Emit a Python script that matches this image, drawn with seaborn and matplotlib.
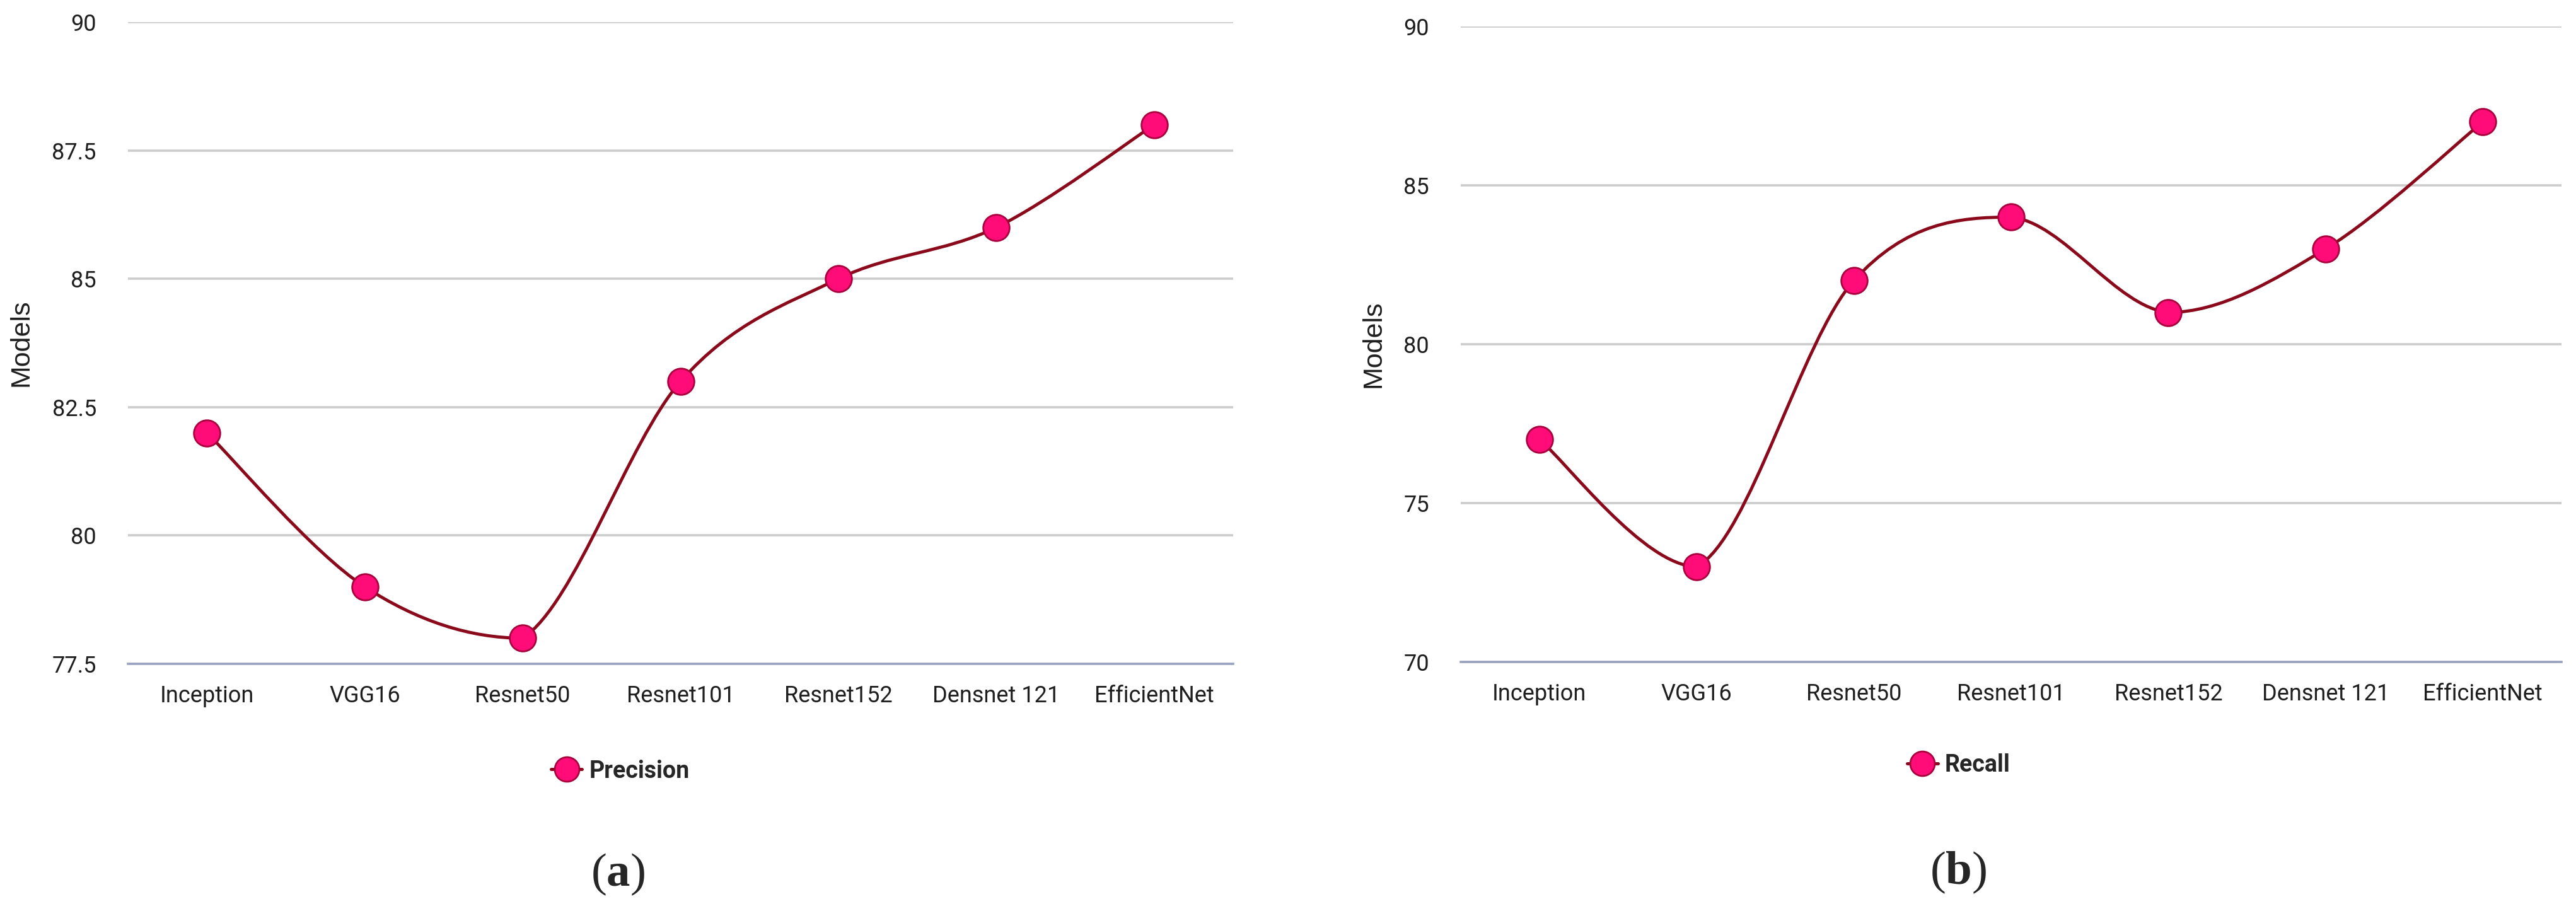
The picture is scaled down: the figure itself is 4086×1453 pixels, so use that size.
import matplotlib
matplotlib.use("Agg")
import matplotlib.pyplot as plt
from matplotlib.path import Path
from matplotlib.patches import PathPatch
from matplotlib.lines import Line2D
import seaborn as sns
import numpy as np
import pandas as pd

models = ['Inception', 'VGG16', 'Resnet50', 'Resnet101', 'Resnet152', 'Densnet 121', 'EfficientNet']
precision = [82, 79, 78, 83, 85, 86, 88]
recall = [77, 73, 82, 84, 81, 83, 87]

prec_ticks = [77.5, 80, 82.5, 85, 87.5, 90]
prec_ticklabels = ['77.5', '80', '82.5', '85', '87.5', '90']
rec_ticks = [70, 75, 80, 85, 90]
rec_ticklabels = ['70', '75', '80', '85', '90']

LINE = '#8a0a1c'
FILL = '#ff0c78'
EDGE = '#a8003c'
GRID = '#cccccc'
BASE = '#99a2bf'

sns.set_theme(style='white')
plt.rcParams['font.family'] = ['Roboto', 'DejaVu Sans']
plt.rcParams['mathtext.fontset'] = 'custom'
plt.rcParams['mathtext.rm'] = 'Liberation Serif'
plt.rcParams['mathtext.bf'] = 'Liberation Serif:bold'

W, H = 4087, 1453
fig = plt.figure(figsize=(W / 100, H / 100), dpi=100)


def smooth_path(vals):
    # cubic bezier through the points, control points kept inside each segment's
    # value range so the curve does not overshoot (like the "function" curve)
    x = np.arange(len(vals), dtype=float)
    y = np.asarray(vals, dtype=float)
    px = np.concatenate([[x[0]], x, [x[-1]]])
    py = np.concatenate([[y[0]], y, [y[-1]]])
    verts = [(x[0], y[0])]
    codes = [Path.MOVETO]
    for i in range(len(x) - 1):
        j = i + 1
        lo, hi = min(y[i], y[i + 1]), max(y[i], y[i + 1])
        c1y = np.clip(y[i] + (py[j + 1] - py[j - 1]) / 6, lo, hi)
        c2y = np.clip(y[i + 1] - (py[j + 2] - py[j]) / 6, lo, hi)
        c1 = (x[i] + (px[j + 1] - px[j - 1]) / 6, c1y)
        c2 = (x[i + 1] - (px[j + 2] - px[j]) / 6, c2y)
        verts += [c1, c2, (x[i + 1], y[i + 1])]
        codes += [Path.CURVE4] * 3
    return Path(verts, codes)


def panel(rect, vals, name, ticks, ticklabels, ylim, legend_xy, tag_xy, tag, ylabel_x):
    ax = fig.add_axes(rect)
    df = pd.DataFrame({'Model': models, name: vals})
    ax.add_patch(PathPatch(smooth_path(vals), facecolor='none', edgecolor=LINE,
                           lw=3.6, zorder=3, capstyle='round'))
    sns.scatterplot(data=df, x='Model', y=name, ax=ax, s=900, color=FILL,
                    edgecolor=EDGE, linewidth=2.0, zorder=4, legend=False)
    ax.set_xlim(-0.5, len(models) - 0.5)
    ax.set_ylim(*ylim)
    ax.set_yticks(ticks)
    ax.set_yticklabels(ticklabels)
    ax.yaxis.grid(True, color=GRID, lw=2.6)
    ax.xaxis.grid(False)
    for s in ['top', 'right', 'left']:
        ax.spines[s].set_visible(False)
    ax.spines['bottom'].set_color(BASE)
    ax.spines['bottom'].set_linewidth(2.6)
    ax.tick_params(axis='y', length=0, pad=36, labelsize=26, labelcolor='#1e1e1e')
    ax.tick_params(axis='x', length=0, pad=24, labelsize=26, labelcolor='#1e1e1e')
    ax.set_xlabel('')
    ax.set_ylabel('Models', fontsize=31, family=['Liberation Sans', 'DejaVu Sans'],
                  color='#1e1e1e')
    ax.yaxis.set_label_coords(ylabel_x, 0.5)

    handle = Line2D([], [], color=LINE, lw=3.6, marker='o', markersize=28,
                    markerfacecolor=FILL, markeredgecolor=EDGE, markeredgewidth=2.0)
    fig.legend([handle], [name], loc='center', bbox_to_anchor=legend_xy,
               frameon=False, handlelength=1.3, handletextpad=0.3,
               prop={'family': 'Roboto', 'weight': 'bold', 'size': 27})
    fig.text(tag_xy[0], tag_xy[1], r'($\mathbf{' + tag + '}$)', ha='center', va='center',
             fontsize=54, family='Liberation Serif')
    return ax


panel([203 / W, 1 - 1053 / H, (1956 - 203) / W, (1053 - 35) / H],
      precision, 'Precision', prec_ticks, prec_ticklabels, (77.5, 90),
      (984 / W, 1 - 1223 / H), (980 / W, 1 - 1387 / H), 'a', -0.085)

panel([2317 / W, 1 - 1050 / H, (4063 - 2317) / W, (1050 - 42) / H],
      recall, 'Recall', rec_ticks, rec_ticklabels, (70, 90),
      (3107 / W, 1 - 1214 / H), (3106 / W, 1 - 1384 / H), 'b', -0.068)

fig.savefig('out.png', dpi=100, facecolor='white')
